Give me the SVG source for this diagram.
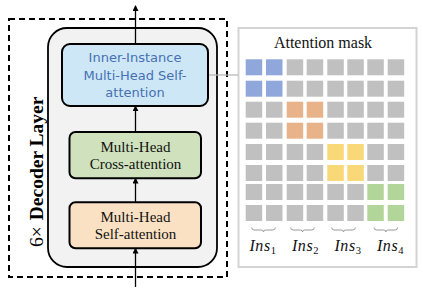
<svg xmlns="http://www.w3.org/2000/svg" width="423" height="293" viewBox="0 0 423 293">
<defs>
<style>
.blk{stroke:#000;stroke-width:2}
.serif{font-family:"Liberation Serif","Times New Roman",serif}
.lbl{font-family:"Liberation Serif","Times New Roman",serif;font-size:15px;fill:#111;text-anchor:middle}
.blue{font-family:"DejaVu Sans",sans-serif;font-size:13px;fill:#4670b2;text-anchor:middle}
.g{fill:#c0c0c0}
.b{fill:#8fa7da}
.o{fill:#e9b38a}
.y{fill:#f9d877}
.gr{fill:#b2d59a}
.conn{stroke:#000;stroke-width:1.3;fill:none;marker-end:url(#ah)}
.brk{stroke:#9a9a9a;stroke-width:1;fill:none}
.ins{font-family:"Liberation Serif","Times New Roman",serif;font-style:italic;font-size:16px;fill:#111;text-anchor:middle;letter-spacing:0.6px}
</style>
<marker id="ah" markerWidth="6" markerHeight="6" refX="5" refY="3" orient="auto" markerUnits="userSpaceOnUse">
<path d="M0,0 L6,3 L0,6 Z" fill="#000"/>
</marker>
</defs>
<rect width="423" height="293" fill="#fff"/>

<g id="decoder-frame">
<rect x="9" y="19" width="218" height="258" fill="none" stroke="#000" stroke-width="2" stroke-dasharray="6 4"/>
<text class="serif" transform="translate(42.5,247) rotate(-90)" font-size="19.5"><tspan>6×</tspan><tspan dx="6" font-weight="bold">Decoder Layer</tspan></text>
</g>

<g id="layer-body">
<rect x="48" y="28" width="169" height="239" rx="19" fill="#f2f2f2" stroke="#000" stroke-width="1.8"/>
</g>

<g id="inner-instance">
<rect x="62" y="44" width="146" height="62" rx="8" fill="#cde7f7" class="blk"/>
<text class="blue" x="135" y="62.3">Inner-Instance</text>
<text class="blue" x="135" y="80">Multi-Head Self-</text>
<text class="blue" x="135" y="97.3">attention</text>
</g>

<g id="cross-attention">
<rect x="69.5" y="132" width="131.5" height="46.3" rx="6" fill="#cfe2bd" class="blk"/>
<text class="lbl" x="135.5" y="152.3">Multi-Head</text>
<text class="lbl" x="135.5" y="169">Cross-attention</text>
</g>

<g id="self-attention">
<rect x="69.5" y="202.3" width="131.5" height="46" rx="6" fill="#fbe1c4" class="blk"/>
<text class="lbl" x="135.5" y="222.3">Multi-Head</text>
<text class="lbl" x="135.5" y="239">Self-attention</text>
</g>

<g id="attention-mask">
<rect x="238.5" y="28" width="178" height="239" fill="#fff" stroke="#d4d4d4" stroke-width="2"/>
<text class="serif" x="323" y="48" font-size="16" text-anchor="middle" fill="#111">Attention mask</text>
<g id="cells">
<rect class="b" x="245.7" y="59.3" width="16.5" height="16"/><rect class="b" x="266" y="59.3" width="16.5" height="16"/><rect class="g" x="286.7" y="59.3" width="16.5" height="16"/><rect class="g" x="306.7" y="59.3" width="16.5" height="16"/><rect class="g" x="327.3" y="59.3" width="16.5" height="16"/><rect class="g" x="347.3" y="59.3" width="16.5" height="16"/><rect class="g" x="367.3" y="59.3" width="16.5" height="16"/><rect class="g" x="387.7" y="59.3" width="16.5" height="16"/>
<rect class="b" x="245.7" y="80.7" width="16.5" height="16"/><rect class="b" x="266" y="80.7" width="16.5" height="16"/><rect class="g" x="286.7" y="80.7" width="16.5" height="16"/><rect class="g" x="306.7" y="80.7" width="16.5" height="16"/><rect class="g" x="327.3" y="80.7" width="16.5" height="16"/><rect class="g" x="347.3" y="80.7" width="16.5" height="16"/><rect class="g" x="367.3" y="80.7" width="16.5" height="16"/><rect class="g" x="387.7" y="80.7" width="16.5" height="16"/>
<rect class="g" x="245.7" y="101.7" width="16.5" height="16"/><rect class="g" x="266" y="101.7" width="16.5" height="16"/><rect class="o" x="286.7" y="101.7" width="16.5" height="16"/><rect class="o" x="306.7" y="101.7" width="16.5" height="16"/><rect class="g" x="327.3" y="101.7" width="16.5" height="16"/><rect class="g" x="347.3" y="101.7" width="16.5" height="16"/><rect class="g" x="367.3" y="101.7" width="16.5" height="16"/><rect class="g" x="387.7" y="101.7" width="16.5" height="16"/>
<rect class="g" x="245.7" y="122.7" width="16.5" height="16"/><rect class="g" x="266" y="122.7" width="16.5" height="16"/><rect class="o" x="286.7" y="122.7" width="16.5" height="16"/><rect class="o" x="306.7" y="122.7" width="16.5" height="16"/><rect class="g" x="327.3" y="122.7" width="16.5" height="16"/><rect class="g" x="347.3" y="122.7" width="16.5" height="16"/><rect class="g" x="367.3" y="122.7" width="16.5" height="16"/><rect class="g" x="387.7" y="122.7" width="16.5" height="16"/>
<rect class="g" x="245.7" y="144" width="16.5" height="16"/><rect class="g" x="266" y="144" width="16.5" height="16"/><rect class="g" x="286.7" y="144" width="16.5" height="16"/><rect class="g" x="306.7" y="144" width="16.5" height="16"/><rect class="y" x="327.3" y="144" width="16.5" height="16"/><rect class="y" x="347.3" y="144" width="16.5" height="16"/><rect class="g" x="367.3" y="144" width="16.5" height="16"/><rect class="g" x="387.7" y="144" width="16.5" height="16"/>
<rect class="g" x="245.7" y="165" width="16.5" height="16"/><rect class="g" x="266" y="165" width="16.5" height="16"/><rect class="g" x="286.7" y="165" width="16.5" height="16"/><rect class="g" x="306.7" y="165" width="16.5" height="16"/><rect class="y" x="327.3" y="165" width="16.5" height="16"/><rect class="y" x="347.3" y="165" width="16.5" height="16"/><rect class="g" x="367.3" y="165" width="16.5" height="16"/><rect class="g" x="387.7" y="165" width="16.5" height="16"/>
<rect class="g" x="245.7" y="184" width="16.5" height="16"/><rect class="g" x="266" y="184" width="16.5" height="16"/><rect class="g" x="286.7" y="184" width="16.5" height="16"/><rect class="g" x="306.7" y="184" width="16.5" height="16"/><rect class="g" x="327.3" y="184" width="16.5" height="16"/><rect class="g" x="347.3" y="184" width="16.5" height="16"/><rect class="gr" x="367.3" y="184" width="16.5" height="16"/><rect class="gr" x="387.7" y="184" width="16.5" height="16"/>
<rect class="g" x="245.7" y="205" width="16.5" height="16"/><rect class="g" x="266" y="205" width="16.5" height="16"/><rect class="g" x="286.7" y="205" width="16.5" height="16"/><rect class="g" x="306.7" y="205" width="16.5" height="16"/><rect class="g" x="327.3" y="205" width="16.5" height="16"/><rect class="g" x="347.3" y="205" width="16.5" height="16"/><rect class="gr" x="367.3" y="205" width="16.5" height="16"/><rect class="gr" x="387.7" y="205" width="16.5" height="16"/>
</g>
<g id="brackets">
<path class="brk" d="M251.7,227.5 q0,2.5 2.5,2.5 h7.3 q2,0 2,2 q0,-2 2,-2 h7.3 q2.5,0 2.5,-2.5"/>
<path class="brk" d="M290.7,227.5 q0,2.5 2.5,2.5 h7.3 q2,0 2,2 q0,-2 2,-2 h7.3 q2.5,0 2.5,-2.5"/>
<path class="brk" d="M331.7,227.5 q0,2.5 2.5,2.5 h7.3 q2,0 2,2 q0,-2 2,-2 h7.3 q2.5,0 2.5,-2.5"/>
<path class="brk" d="M374,227.5 q0,2.5 2.5,2.5 h7.3 q2,0 2,2 q0,-2 2,-2 h7.3 q2.5,0 2.5,-2.5"/>
</g>
<text class="ins" x="263" y="250.7">Ins<tspan font-style="normal" font-size="10.5" dy="3.5">1</tspan></text>
<text class="ins" x="305.5" y="250.7">Ins<tspan font-style="normal" font-size="10.5" dy="3.5">2</tspan></text>
<text class="ins" x="348" y="250.7">Ins<tspan font-style="normal" font-size="10.5" dy="3.5">3</tspan></text>
<text class="ins" x="390.5" y="250.7">Ins<tspan font-style="normal" font-size="10.5" dy="3.5">4</tspan></text>
</g>

<g id="connectors">
<line x1="135.5" y1="287" x2="135.5" y2="248.5" class="conn"/>
<line x1="135.5" y1="202.3" x2="135.5" y2="178.5" class="conn"/>
<line x1="135.5" y1="132" x2="135.5" y2="106.3" class="conn"/>
<line x1="135.5" y1="44" x2="135.5" y2="6" class="conn"/>
<line x1="209" y1="75" x2="238" y2="75" stroke="#b4b4b4" stroke-width="1.2"/>
</g>
</svg>
